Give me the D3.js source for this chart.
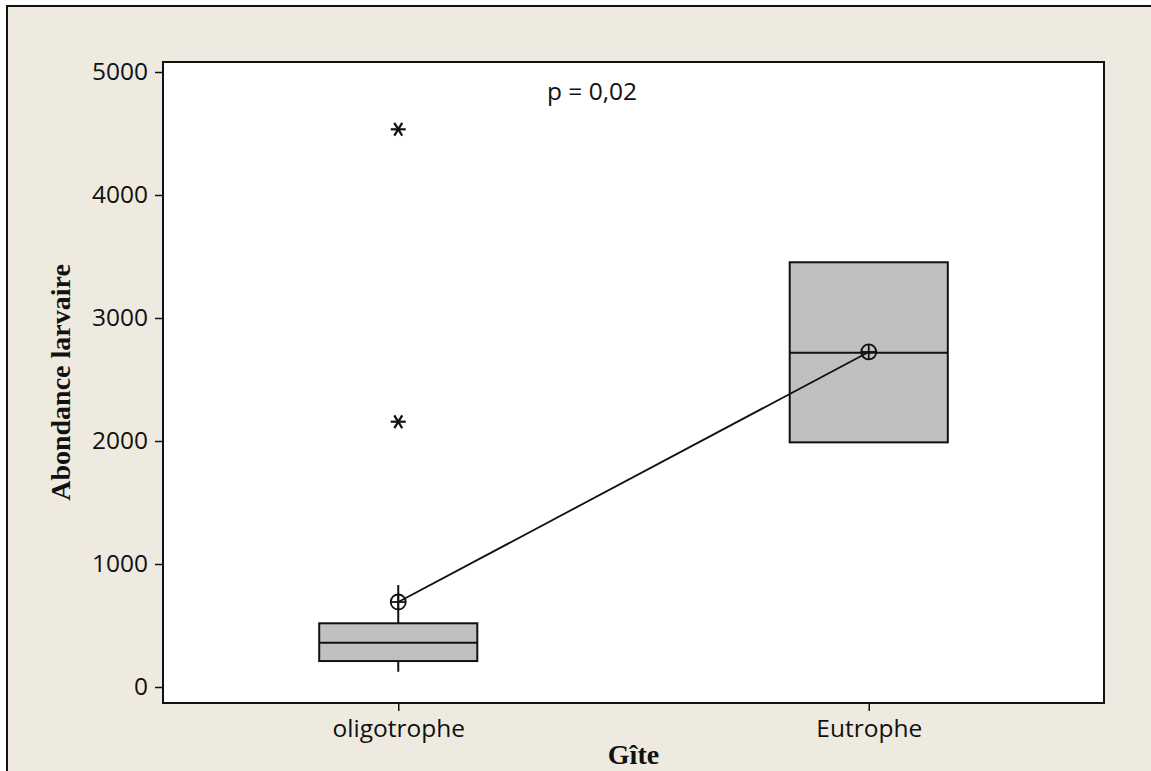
<!DOCTYPE html>
<html>

<head>
    <meta charset="utf-8">
    <style>
        body {
            margin: 0;
            background: white;
        }

        svg {
            display: block;
        }

        .tick-label {
            font-family: "Open Sans", sans-serif;
            font-size: 24.5px;
            fill: #111;
        }

        .axis-title {
            font-family: "Liberation Serif", "Times New Roman", serif;
            font-weight: bold;
            font-size: 28px;
            fill: #111;
        }
    </style>
</head>

<body>
    <svg width="1151" height="771"></svg>
</body>

<script src="https://d3js.org/d3.v7.min.js"></script>

<script>
    // data
    const categories = ["oligotrophe", "Eutrophe"];
    const whiskerLow = [124, 1989];
    const q1 = [211, 1989];
    const median = [360, 2718];
    const q3 = [518, 3453];
    const whiskerHigh = [829, 3453];
    const means = [691, 2724];

    const outlierCats = ["oligotrophe", "oligotrophe"];
    const outlierValues = [4534, 2157];

    const yTicks = [0, 1000, 2000, 3000, 4000, 5000];
    const pLabel = "p = 0,02";
    const xTitle = "Gîte";
    const yTitle = "Abondance larvaire";

    const width = 1151;
    const height = 771;

    // plot frame
    const frame = { left: 163, top: 62, right: 1104, bottom: 703 };

    let svg = d3.select("svg");

    // beige background with the outer border (only left and top show)
    svg.append("rect")
        .attr("x", 7).attr("y", 6)
        .attr("width", width + 20).attr("height", height + 20)
        .style("fill", "#eeeae0")
        .style("stroke", "#111")
        .style("stroke-width", 2);

    // white plot area
    svg.append("rect")
        .attr("x", frame.left).attr("y", frame.top)
        .attr("width", frame.right - frame.left)
        .attr("height", frame.bottom - frame.top)
        .style("fill", "white");

    let x = d3.scalePoint()
        .domain(categories)
        .range([frame.left, frame.right])
        .padding(0.5);

    let y = d3.scaleLinear()
        .domain([0, 5000])
        .range([687, 72]);

    let boxHalf = x.step() * 0.168;

    // y axis
    let yAxis = d3.axisLeft(y)
        .tickValues(yTicks)
        .tickSize(8)
        .tickPadding(7)
        .tickFormat(d3.format("d"));

    let gy = svg.append("g")
        .attr("transform", "translate(" + frame.left + ",0)")
        .call(yAxis);
    gy.select(".domain").remove();
    gy.selectAll("line").style("stroke", "#111").style("stroke-width", 1.5);
    gy.selectAll("text").attr("class", "tick-label").attr("font-size", null).attr("font-family", null);

    // x axis
    let xAxis = d3.axisBottom(x)
        .tickSize(8)
        .tickPadding(9);

    let gx = svg.append("g")
        .attr("transform", "translate(0," + frame.bottom + ")")
        .call(xAxis);
    gx.select(".domain").remove();
    gx.selectAll("line").style("stroke", "#111").style("stroke-width", 1.5);
    gx.selectAll("text").attr("class", "tick-label").attr("font-size", null).attr("font-family", null);

    let boxData = categories.map((c, i) => ({
        cat: c, lo: whiskerLow[i], q1: q1[i], med: median[i], q3: q3[i], hi: whiskerHigh[i], mean: means[i]
    }));

    let boxes = svg.append("g")
        .selectAll("g")
        .data(boxData)
        .join("g");

    // whiskers
    boxes.append("line")
        .attr("x1", d => x(d.cat)).attr("x2", d => x(d.cat))
        .attr("y1", d => y(d.hi)).attr("y2", d => y(d.q3))
        .style("stroke", "#111").style("stroke-width", 2);
    boxes.append("line")
        .attr("x1", d => x(d.cat)).attr("x2", d => x(d.cat))
        .attr("y1", d => y(d.q1)).attr("y2", d => y(d.lo))
        .style("stroke", "#111").style("stroke-width", 2);

    // boxes
    boxes.append("rect")
        .attr("x", d => x(d.cat) - boxHalf)
        .attr("y", d => y(d.q3))
        .attr("width", boxHalf * 2)
        .attr("height", d => y(d.q1) - y(d.q3))
        .style("fill", "#c0c0c0")
        .style("stroke", "#111")
        .style("stroke-width", 2);

    // medians
    boxes.append("line")
        .attr("x1", d => x(d.cat) - boxHalf).attr("x2", d => x(d.cat) + boxHalf)
        .attr("y1", d => y(d.med)).attr("y2", d => y(d.med))
        .style("stroke", "#111").style("stroke-width", 2);

    // line connecting means
    let meanLine = d3.line()
        .x(d => x(d.cat))
        .y(d => y(d.mean));

    svg.append("path")
        .datum(boxData)
        .attr("d", meanLine)
        .style("fill", "none")
        .style("stroke", "#111")
        .style("stroke-width", 1.8);

    // mean symbol: circle with a cross
    let r = 7.5;
    let meanSym = svg.append("g")
        .selectAll("g")
        .data(boxData)
        .join("g")
        .attr("transform", d => "translate(" + x(d.cat) + "," + y(d.mean) + ")");
    meanSym.append("circle")
        .attr("r", r)
        .style("fill", "none")
        .style("stroke", "#111")
        .style("stroke-width", 1.8);
    meanSym.append("line")
        .attr("x1", -r).attr("x2", r)
        .style("stroke", "#111").style("stroke-width", 1.8);
    meanSym.append("line")
        .attr("y1", -r).attr("y2", r)
        .style("stroke", "#111").style("stroke-width", 1.8);

    // outliers as asterisks
    let outliers = outlierValues.map((v, i) => ({ cat: outlierCats[i], value: v }));
    let s = 7.5;
    let stars = svg.append("g")
        .selectAll("g")
        .data(outliers)
        .join("g")
        .attr("transform", d => "translate(" + x(d.cat) + "," + y(d.value) + ")");
    [0, 58, -58].forEach(a => {
        let rad = a * Math.PI / 180;
        stars.append("line")
            .attr("x1", -s * Math.cos(rad)).attr("y1", -s * Math.sin(rad))
            .attr("x2", s * Math.cos(rad)).attr("y2", s * Math.sin(rad))
            .style("stroke", "#111").style("stroke-width", 2.2);
    });

    // frame border on top
    svg.append("rect")
        .attr("x", frame.left).attr("y", frame.top)
        .attr("width", frame.right - frame.left)
        .attr("height", frame.bottom - frame.top)
        .style("fill", "none")
        .style("stroke", "#111")
        .style("stroke-width", 2);

    // p value note
    svg.append("text")
        .attr("class", "tick-label")
        .attr("x", 592).attr("y", 100)
        .attr("text-anchor", "middle")
        .text(pLabel);

    // axis titles
    svg.append("text")
        .attr("class", "axis-title")
        .attr("x", (frame.left + frame.right) / 2)
        .attr("y", 764)
        .attr("text-anchor", "middle")
        .text(xTitle);

    svg.append("text")
        .attr("class", "axis-title")
        .attr("transform", "translate(70," + ((frame.top + frame.bottom) / 2) + ") rotate(-90)")
        .attr("text-anchor", "middle")
        .text(yTitle);
</script>

</html>
